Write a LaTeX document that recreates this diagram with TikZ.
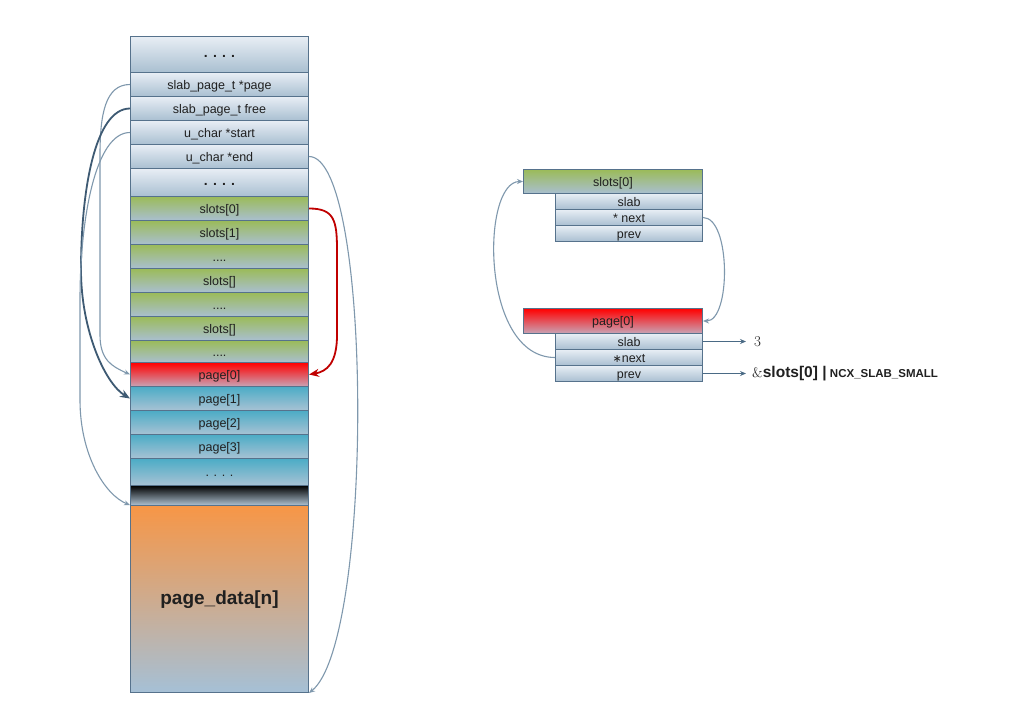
\documentclass[tikz,border=0pt]{standalone}
\usepackage{fontspec}
\setsansfont{Liberation Sans}
\newfontfamily\djvfont{DejaVu Sans}
\usetikzlibrary{arrows.meta}
\definecolor{bord}{HTML}{56728C}
\definecolor{txt}{HTML}{202020}
\definecolor{lcol}{HTML}{7F98AD}
\definecolor{dcol}{HTML}{3E5A73}
\definecolor{rcol}{HTML}{C00000}
\definecolor{scol}{HTML}{4A6A85}
\definecolor{gtop}{HTML}{E8EEF5}
\definecolor{gbot}{HTML}{A9BFD1}
\definecolor{grtop}{HTML}{9BBB59}
\definecolor{grbot}{HTML}{A9BFD0}
\definecolor{rtop}{HTML}{FF0000}
\definecolor{rbot}{HTML}{C8A4B6}
\definecolor{btop}{HTML}{4BACC6}
\definecolor{bbot}{HTML}{A8C2D4}
\definecolor{ktop}{HTML}{000000}
\definecolor{kbot}{HTML}{B0C4D4}
\definecolor{otop}{HTML}{F79646}
\definecolor{obot}{HTML}{A5C0D6}
\newcommand\labfont{\sffamily\fontsize{12.5}{14}\selectfont}
\tikzset{
  cell/.style={draw=bord, line width=1pt, inner sep=0pt, anchor=north west,
    minimum width=178pt, font=\labfont, text=txt, text height=11pt, text depth=2pt},
  dots/.style={font=\sffamily\bfseries\fontsize{14}{16}\selectfont, text height=6pt, text depth=0pt},
  cgray/.style={top color=gtop, bottom color=gbot},
  cgreen/.style={top color=grtop, bottom color=grbot},
  cred/.style={top color=rtop, bottom color=rbot},
  cblue/.style={top color=btop, bottom color=bbot},
  cblack/.style={top color=ktop, bottom color=kbot},
  corange/.style={top color=otop, bottom color=obot},
  sub/.style={cell, cgray, minimum width=147pt, minimum height=16pt},
  lightarr/.style={draw=lcol, line width=1.1pt, -{Stealth[length=6pt,width=5pt]}},
  darkarr/.style={draw=dcol, line width=1.8pt, -{Stealth[length=10pt,width=8pt]}},
  redarr/.style={draw=rcol, line width=1.8pt, -{Stealth[length=10pt,width=8pt]}},
  straightarr/.style={draw=scol, line width=1.1pt, -{Stealth[length=6pt,width=5pt]}}
}
\begin{document}
\begin{tikzpicture}[x=1pt,y=-1pt]
\useasboundingbox[fill=white] (0,0) rectangle (1024,725);
% left column
\node[cell,cgray,dots,minimum height=36pt] (r0) at (130,36) {. . . .};
\node[cell,cgray,minimum height=24pt] (rpage) at (130,72) {slab\_page\_t *page};
\node[cell,cgray,minimum height=24pt] (rfree) at (130,96) {slab\_page\_t free};
\node[cell,cgray,minimum height=24pt] (rstart) at (130,120) {u\_char *start};
\node[cell,cgray,minimum height=24pt] (rend) at (130,144) {u\_char *end};
\node[cell,cgray,dots,minimum height=28pt] (r5) at (130,168) {. . . .};
\node[cell,cgreen,minimum height=24pt] (s0) at (130,196) {slots[0]};
\node[cell,cgreen,minimum height=24pt] (s1) at (130,220) {slots[1]};
\node[cell,cgreen,minimum height=24pt] (s2) at (130,244) {....};
\node[cell,cgreen,minimum height=24pt] (s3) at (130,268) {slots[]};
\node[cell,cgreen,minimum height=24pt] (s4) at (130,292) {....};
\node[cell,cgreen,minimum height=24pt] (s5) at (130,316) {slots[]};
\node[cell,cgreen,minimum height=22pt] (s6) at (130,340) {....};
\node[cell,cred,minimum height=24pt] (p0) at (130,362) {page[0]};
\node[cell,cblue,minimum height=24pt] (p1) at (130,386) {page[1]};
\node[cell,cblue,minimum height=24pt] (p2) at (130,410) {page[2]};
\node[cell,cblue,minimum height=24pt] (p3) at (130,434) {page[3]};
\node[cell,cblue,minimum height=27pt] (p4) at (130,458) {. . . .};
\node[cell,cblack,minimum height=20pt] (pb) at (130,485) {};
\node[cell,corange,minimum height=187pt,font=\sffamily\bfseries\fontsize{19}{22}\selectfont,text height=14pt,text depth=4pt] (pd) at (130,505) {page\_data[n]};
% right diagram
\node[cell,cgreen,minimum width=179pt,minimum height=24pt] (hs) at (523,169) {slots[0]};
\node[sub] (hs1) at (555,193) {slab};
\node[sub] (hs2) at (555,209) {* next};
\node[sub] (hs3) at (555,225) {prev};
\node[cell,cred,minimum width=179pt,minimum height=25pt] (hp) at (523,308) {page[0]};
\node[sub] (hp1) at (555,333) {slab};
\node[sub] (hp2) at (555,349) {{\djvfont\fontsize{11}{13}\selectfont ∗}next};
\node[sub] (hp3) at (555,365) {prev};
\node[anchor=west,inner xsep=8pt,inner ysep=0pt,font=\fontsize{15}{17}\selectfont,text=txt] (three) at ([xshift=43pt]hp1.east) {3};
\node[anchor=west,inner xsep=6pt,inner ysep=0pt,text=txt] (lbl) at ([xshift=43pt]hp3.east)
  {{\fontsize{14}{16}\selectfont\&}{\sffamily\bfseries\fontsize{15.5}{17}\selectfont slots[0] |}
   {\sffamily\bfseries\fontsize{11.5}{14}\selectfont NCX\_SLAB\_SMALL}};
% left connectors
\draw[lightarr] (rpage.west) .. controls +(-25,0) and +(0,-40) .. (100,155) -- (100,335)
  .. controls +(0,25) and +(-18,-8) .. (p0.west);
\draw[darkarr] (rfree.west) .. controls +(-35,0) and +(0,-80) .. (81,270)
  .. controls +(0,60) and +(-25,-15) .. (p1.west);
\draw[lightarr] (rstart.west) .. controls +(-35,0) and +(0,-80) .. (80,300) -- (80,400)
  .. controls +(0,55) and +(-25,-10) .. (pd.north west);
\draw[lightarr] (rend.east) .. controls +(64,0) and +(65,-52) .. (pd.south east);
\draw[redarr] (s0.east) .. controls +(25,0) and +(0,-30) .. (337,250) -- (337,335)
  .. controls +(0,28) and +(18,-3) .. (p0.east);
% right connectors
\draw[lightarr] (hs2.east) .. controls +(28,0) and +(28,0) .. (hp.east);
\draw[lightarr] (hp2.west) .. controls +(-75,0) and +(-42,0) .. (hs.west);
\draw[straightarr] (hp1.east) -- (three.west);
\draw[straightarr] (hp3.east) -- (lbl.west);
\end{tikzpicture}
\end{document}
